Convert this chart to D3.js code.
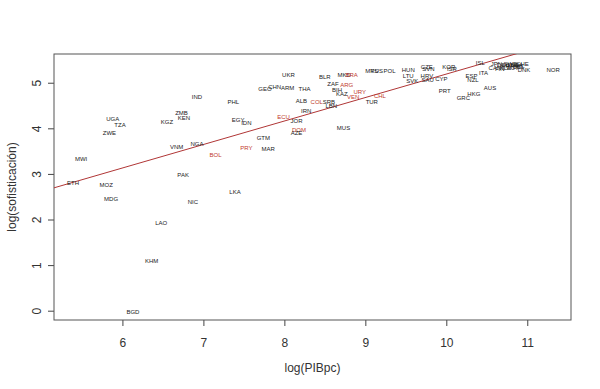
<!DOCTYPE html>
<html>
<head>
<meta charset="utf-8">
<script src="https://cdn.jsdelivr.net/npm/d3@7"></script>
<style>
  body { margin: 0; background: #fff; }
  text { font-family: "Liberation Sans", Arial, sans-serif; }
</style>
</head>
<body>
<svg id="chart" width="600" height="389"></svg>
<script>
// log(PIBpc) vs log(sofisticación) por país

const paises = ["IND","UGA","TZA","ZWE","ZMB","KEN","KGZ","VNM","NGA","MWI",
  "ETH","MOZ","MDG","PAK","NIC","LAO","KHM","BGD","PHL","EGY",
  "IDN","GEO","CHN","ARM","UKR","THA","BLR","ALB","COL","IRN",
  "ECU","JOR","DOM","AZE","GTM","MAR","PRY","BOL","LKA","MKD",
  "BRA","MYS","RUS","POL","ZAF","ARG","BIH","KAZ","VEN","URY",
  "CHL","TUR","SRB","LBN","MUS","HUN","CZE","SVN","KOR","ISR",
  "LTU","SVK","HRV","SAU","CYP","PRT","GRC","HKG","ESP","NZL",
  "ITA","AUS","ISL","CAN","DEU","FRA","GBR","USA","NLD","AUT",
  "SWE","FIN","BEL","JPN","IRL","CHE","DNK","NOR"];

const logPIB = [6.92,5.88,5.97,5.84,6.73,6.76,6.55,6.67,6.92,5.49,
  5.39,5.80,5.86,6.75,6.87,6.48,6.36,6.13,7.37,7.43,
  7.53,7.76,7.88,8.04,8.05,8.25,8.50,8.21,8.40,8.27,
  7.99,8.15,8.18,8.15,7.74,7.80,7.53,7.15,7.39,8.74,
  8.83,9.08,9.14,9.30,8.60,8.77,8.65,8.71,8.85,8.93,
  9.18,9.08,8.55,8.58,8.73,9.53,9.76,9.78,10.03,10.07,
  9.53,9.58,9.76,9.77,9.94,9.98,10.21,10.34,10.31,10.33,
  10.46,10.54,10.42,10.60,10.70,10.76,10.81,10.87,10.73,10.82,
  10.79,10.66,10.89,10.62,10.91,10.94,10.96,11.32];

const logSof = [4.69,4.20,4.07,3.89,4.33,4.22,4.14,3.60,3.65,3.33,
  2.81,2.76,2.45,2.98,2.38,1.93,1.09,-0.02,4.57,4.18,
  4.12,4.86,4.91,4.88,5.17,4.86,5.13,4.61,4.58,4.38,
  4.25,4.16,3.96,3.89,3.79,3.54,3.56,3.41,2.61,5.17,
  5.17,5.26,5.26,5.26,4.97,4.95,4.84,4.75,4.69,4.80,
  4.71,4.58,4.57,4.49,4.00,5.28,5.35,5.30,5.35,5.30,
  5.15,5.04,5.15,5.06,5.08,4.82,4.66,4.75,5.15,5.06,
  5.22,4.88,5.43,5.32,5.39,5.37,5.38,5.40,5.33,5.32,
  5.42,5.31,5.34,5.41,5.37,5.41,5.28,5.28];

// Países en rojo (América Latina)
const latam = ["COL","ECU","DOM","PRY","BOL","BRA","ARG","VEN","URY","CHL"];

// Recta de regresión: log(sof) = a + b * log(PIBpc)
const intercepto = 0.04;
const pendiente = 0.515;

const xTicks = [6, 7, 8, 9, 10, 11];
const yTicks = [0, 1, 2, 3, 4, 5];

const svg = d3.select("#chart");
const W = +svg.attr("width");
const H = +svg.attr("height");
const margin = { top: 54, right: 29, bottom: 69, left: 54 };
const innerW = W - margin.left - margin.right;
const innerH = H - margin.top - margin.bottom;

const g = svg.append("g").attr("transform", `translate(${margin.left},${margin.top})`);

const x = d3.scaleLinear().domain([5.155, 11.54]).range([0, innerW]);
const y = d3.scaleLinear().domain([-0.204, 5.63]).range([innerH, 0]);

// Ejes
const xAxis = g.append("g")
  .attr("transform", `translate(0,${innerH})`)
  .call(d3.axisBottom(x).tickValues(xTicks).tickSize(6).tickPadding(12).tickFormat(d3.format("d")));

const yAxis = g.append("g")
  .call(d3.axisLeft(y).tickValues(yTicks).tickSize(6).tickFormat(d3.format("d")));

[xAxis, yAxis].forEach(a => {
  a.select(".domain").remove();
  a.selectAll("line").attr("stroke", "#444");
  a.selectAll("text").style("font-size", "12px").attr("fill", "#333");
});

yAxis.selectAll(".tick text")
  .attr("x", null).attr("dy", null)
  .attr("text-anchor", "middle")
  .attr("transform", "translate(-17,0) rotate(-90)")
  .attr("dy", "0.35em");

// Marco
g.append("rect")
  .attr("width", innerW)
  .attr("height", innerH)
  .attr("fill", "none")
  .attr("stroke", "#555")
  .attr("stroke-width", 1);

// Recta de regresión (recortada al área)
g.append("clipPath").attr("id", "clip")
  .append("rect").attr("width", innerW).attr("height", innerH);

const x0 = x.domain()[0], x1 = x.domain()[1];
g.append("line")
  .attr("clip-path", "url(#clip)")
  .attr("x1", x(x0)).attr("y1", y(intercepto + pendiente * x0))
  .attr("x2", x(x1)).attr("y2", y(intercepto + pendiente * x1))
  .attr("stroke", "#b03636")
  .attr("stroke-width", 1);

// Etiquetas de países
const data = paises.map((p, i) => ({ p: p, x: logPIB[i], y: logSof[i] }));

g.selectAll(".pais")
  .data(data)
  .enter()
  .append("text")
  .attr("class", "pais")
  .attr("x", d => x(d.x))
  .attr("y", d => y(d.y))
  .attr("dy", "0.35em")
  .attr("text-anchor", "middle")
  .style("font-size", "6px")
  .attr("fill", d => latam.includes(d.p) ? "#c0392b" : "#222")
  .text(d => d.p);

// Títulos de ejes
svg.append("text")
  .attr("x", margin.left + innerW / 2)
  .attr("y", 372)
  .attr("text-anchor", "middle")
  .style("font-size", "12px")
  .attr("fill", "#333")
  .text("log(PIBpc)");

svg.append("text")
  .attr("transform", "rotate(-90)")
  .attr("x", -(margin.top + innerH / 2))
  .attr("y", 12)
  .attr("dy", "0.35em")
  .attr("text-anchor", "middle")
  .style("font-size", "12px")
  .attr("fill", "#333")
  .text("log(sofisticación)");
</script>
</body>
</html>
